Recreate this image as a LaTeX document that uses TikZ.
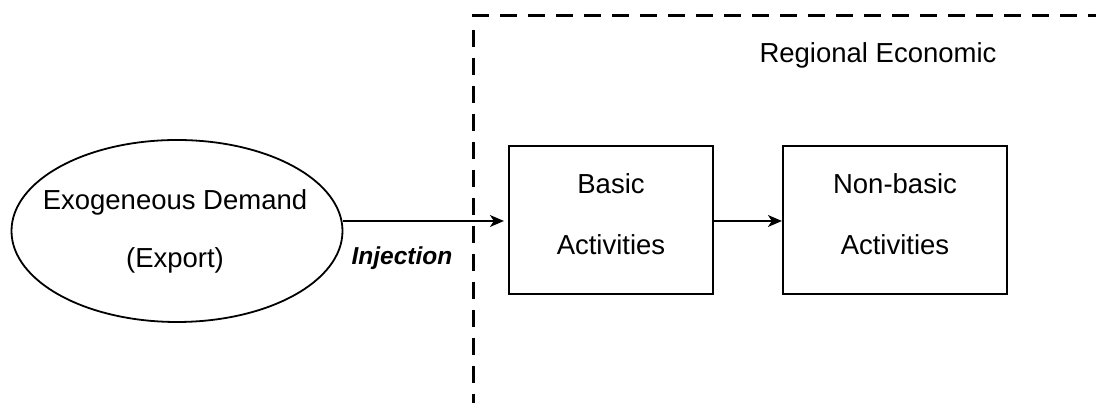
\documentclass[tikz,border=0pt]{standalone}
\usepackage{fontspec}
\setmainfont{Liberation Sans}
\usetikzlibrary{shapes.geometric,arrows.meta}
\tikzset{
  shapebox/.style={draw, line width=2.2pt, minimum width=#1, minimum height=148pt, inner sep=0pt},
  oval/.style={draw, ellipse, line width=1.8pt, minimum width=331pt, minimum height=182pt, inner sep=0pt},
  lbl/.style={anchor=base, inner sep=0pt, font=\fontsize{27.5}{33}\selectfont},
  flow/.style={line width=1.3pt, -{Stealth[length=14pt,width=12pt,inset=4pt]}},
  frame/.style={line width=3pt, dash pattern=on 17pt off 11pt}
}
\begin{document}
\begin{tikzpicture}[x=1pt,y=1pt]
\useasboundingbox (0,0) rectangle (1096,403);
% dashed region frame
\coordinate (fTL) at (472,387);
\coordinate (fTR) at (1096,387);
\coordinate (fV) at (473,373);
\coordinate (fB) at (473,0);
\draw[frame] (fTL) -- (fTR);
\draw[frame] (fV) -- (fB);
\node[lbl] (reg) at (878,340) {Regional Economic};
% shapes
\node[oval] (ex) at (177,172) {};
\node[lbl] (ex1) at (175,193) {Exogeneous Demand};
\node[lbl] (ex2) at (175,135) {(Export)};
\node[shapebox=204pt] (basic) at (611,183) {};
\node[lbl] (b1) at (611,209) {Basic};
\node[lbl] (b2) at (611,148) {Activities};
\node[shapebox=224pt] (nonbasic) at (895,183) {};
\node[lbl] (n1) at (895,209) {Non-basic};
\node[lbl] (n2) at (895,148) {Activities};
% connectors
\coordinate (exout) at (343,182);
\draw[flow, shorten >=4pt] (exout) -- (exout -| basic.west);
\draw[flow] (basic.east |- 0,182) -- (nonbasic.west |- 0,182);
\node[lbl, font=\fontsize{24.5}{29}\selectfont\bfseries\itshape] (inj) at (402,138) {Injection};
\end{tikzpicture}
\end{document}
